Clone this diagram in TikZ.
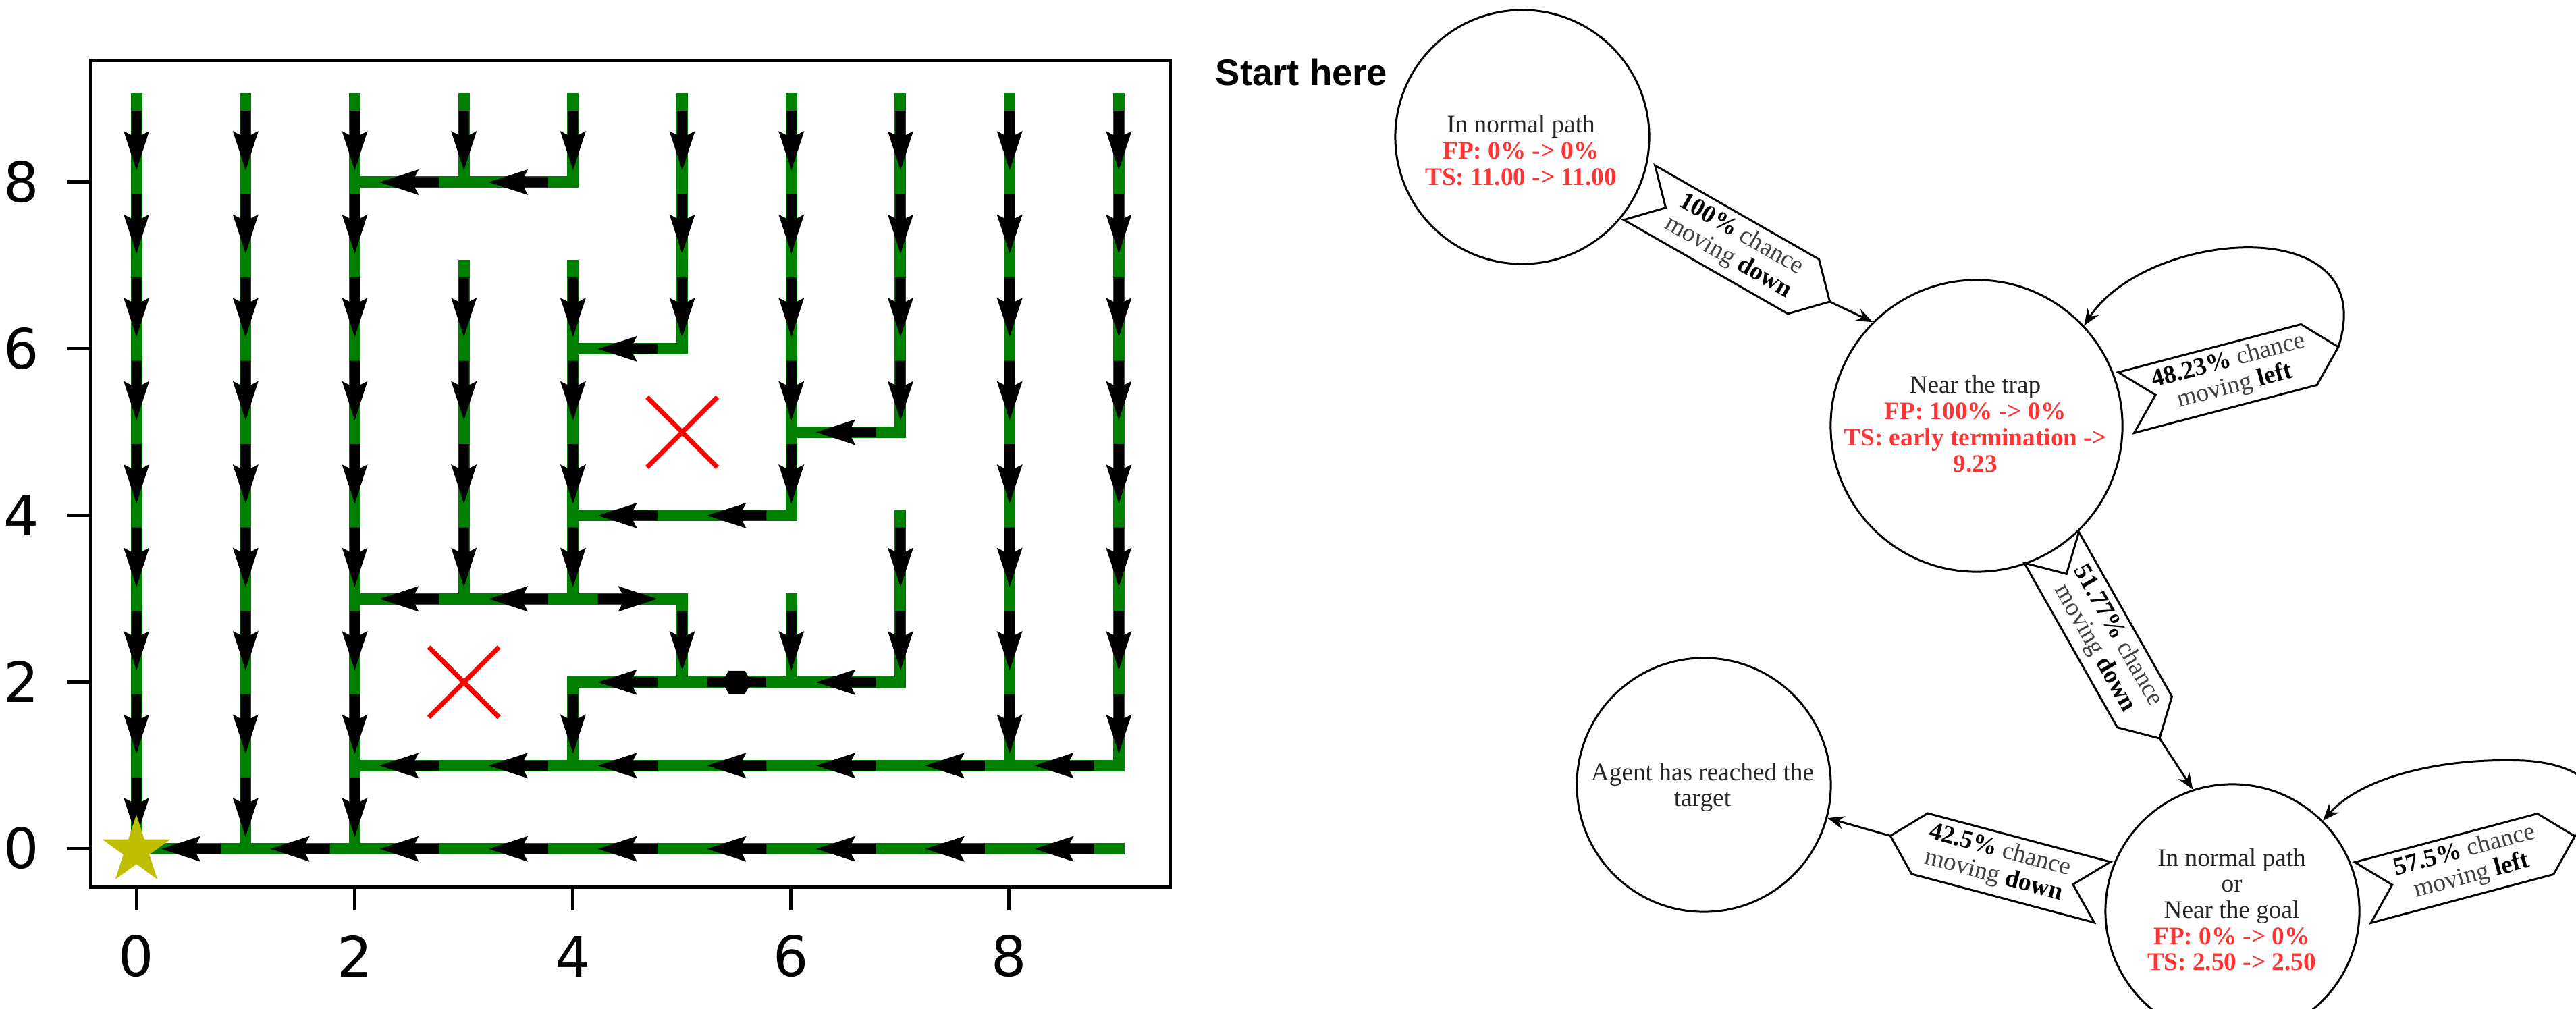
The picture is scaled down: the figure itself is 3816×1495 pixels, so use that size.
\documentclass[tikz,border=0pt]{standalone}
\usepackage{fontspec}
\setmainfont{Liberation Serif}
\newfontfamily\dvsans{DejaVu Sans}
\newfontfamily\lisans{Liberation Sans}
\usetikzlibrary{arrows.meta,shapes.geometric}
\definecolor{mzgreen}{RGB}{0,128,0}
\definecolor{starcol}{RGB}{191,191,0}
\definecolor{fpred}{RGB}{255,51,51}
\newcommand\fp[1]{\textcolor{fpred}{\bfseries #1}}
\newcommand\bw[1]{\textcolor{black}{\bfseries #1}}
\tikzset{
  mz/.style={draw=mzgreen, line width=0.17cm, line cap=rect, line join=miter},
  qarr/.pic={\fill[black] (-0.44cm,-0.075cm) -- (-0.08cm,-0.075cm) -- (-0.14cm,-0.19cm) -- (0.44cm,0cm) -- (-0.14cm,0.19cm) -- (-0.08cm,0.075cm) -- (-0.44cm,0.075cm) -- cycle;},
  qdbl/.pic={\fill[black] (-0.44cm,-0.075cm) rectangle (0.44cm,0.075cm);
             \fill[black] (-0.22cm,0cm) -- (-0.12cm,0.17cm) -- (0.12cm,0.17cm) -- (0.22cm,0cm) -- (0.12cm,-0.17cm) -- (-0.12cm,-0.17cm) -- cycle;},
  xmark/.style={draw=red, line width=0.07cm},
  tickln/.style={line width=0.05cm},
  ticklbl/.style={font=\dvsans\fontsize{23.4pt}{28pt}\selectfont, inner sep=0},
  state/.style={circle, draw, line width=0.85pt, fill=white, inner sep=0},
  stxt/.style={font=\fontsize{10.6pt}{11pt}\selectfont, inner sep=0, text=black!85},
  lblshape/.style={draw, line width=0.85pt, fill=white, line join=miter},
  edge/.style={draw, line width=0.85pt, -{Stealth[length=7pt,width=5.5pt]}},
}
% chevron edge label: name, center, angle, direction(+1/-1), line1, line2
\newcommand\chev[6]{%
  \begin{scope}[shift={(#2)}, rotate=#3]
    \draw[lblshape, xscale=#4] (-140,-46.5) -- (140,-46.5) -- (185,0) -- (140,46.5) -- (-140,46.5) -- (-95,0) -- cycle;
    \path[xscale=#4] (185,0) coordinate (#1tip) (22,0) coordinate (#1mid);
  \end{scope}
  \node[stxt, rotate=#3, text=black!75] (#1) at (#1mid) {\begin{tabular}{@{}c@{}}#5\\#6\end{tabular}};}
\begin{document}
\begin{tikzpicture}[x=0.01cm, y=-0.01cm]
\useasboundingbox (0,0) rectangle (3816,1495);
\fill[white] (0,0) rectangle (3816,1495);

% ---------------- maze plot ----------------
\begin{scope}[shift={(2.02cm,-12.57cm)}, x=1.616cm, y=1.234cm]
  \draw[mz] (0,9) -- (0,0);
  \draw[mz] (1,9) -- (1,0);
  \draw[mz] (2,9) -- (2,0);
  \draw[mz] (3,9) -- (3,8);
  \draw[mz] (4,9) -- (4,8) -- (2,8);
  \draw[mz] (5,9) -- (5,6) -- (4,6);
  \draw[mz] (6,9) -- (6,4) -- (4,4);
  \draw[mz] (7,9) -- (7,5) -- (6,5);
  \draw[mz] (8,9) -- (8,1);
  \draw[mz] (9,9) -- (9,1) -- (2,1);
  \draw[mz] (9,0) -- (0,0);
  \draw[mz] (3,7) -- (3,3);
  \draw[mz] (4,7) -- (4,3);
  \draw[mz] (2,3) -- (5,3) -- (5,2);
  \draw[mz] (6,3) -- (6,2);
  \draw[mz] (7,4) -- (7,2) -- (4,2) -- (4,1);
  % down arrows
  \foreach \x in {0,1,2} {\foreach \k in {0,...,8} {\pic[rotate=-90] at (\x,\k+0.5) {qarr};}}
  \foreach \x in {8,9} {\foreach \k in {1,...,8} {\pic[rotate=-90] at (\x,\k+0.5) {qarr};}}
  \foreach \x/\k in {3/8,3/6,3/5,3/4,3/3,4/8,4/6,4/5,4/4,4/3,4/1,5/8,5/7,5/6,5/2,6/8,6/7,6/6,6/5,6/4,6/2,7/8,7/7,7/6,7/5,7/3,7/2}
    {\pic[rotate=-90] at (\x,\k+0.5) {qarr};}
  % left arrows
  \foreach \k/\y in {2/8,3/8,4/6,6/5,4/4,5/4,2/3,3/3,4/2,6/2} {\pic[rotate=180] at (\k+0.5,\y) {qarr};}
  \foreach \k in {2,...,8} {\pic[rotate=180] at (\k+0.5,1) {qarr};}
  \foreach \k in {0,...,8} {\pic[rotate=180] at (\k+0.5,0) {qarr};}
  % right arrow and double arrow
  \pic at (4.5,3) {qarr};
  \pic at (5.5,2) {qdbl};
  % traps
  \draw[xmark] (3,2) +(-0.52cm,-0.52cm) -- +(0.52cm,0.52cm) +(-0.52cm,0.52cm) -- +(0.52cm,-0.52cm);
  \draw[xmark] (5,5) +(-0.52cm,-0.52cm) -- +(0.52cm,0.52cm) +(-0.52cm,0.52cm) -- +(0.52cm,-0.52cm);
\end{scope}
\node[star, star points=5, star point ratio=2.618, fill=starcol, inner sep=0, minimum size=1.06cm] (goal) at (202,1260) {};
\draw[line width=0.05cm] (134,90) rectangle (1733,1314);
\foreach \k in {0,2,4,6,8} {
  \draw[tickln] ({202+161.6*\k},1314) -- ++(0,35);
  \draw[tickln] (134,{1257-123.4*\k}) -- ++(-35,0);
  \node[ticklbl] (xt\k) at ({202+161.6*\k},1417) {\k};
  \node[ticklbl] (yt\k) at (32,{1257-123.4*\k}) {\k};
}

% ---------------- state diagram ----------------
\node[font=\lisans\bfseries\fontsize{15.5pt}{18pt}\selectfont, anchor=base, inner sep=0] (start) at (1928,127) {Start here};

\node[state, minimum size=3.76cm] (c1) at (2255,203) {};
\node[state, minimum size=4.32cm] (c2) at (2928,631) {};
\node[state, minimum size=3.76cm] (c3) at (2524,1163) {};
\node[state, minimum size=3.76cm] (c4) at (3307,1350) {};

\node[stxt, anchor=base] (t1) at (2253,197) {\begin{tabular}[t]{@{}c@{}}In normal path\\ \fp{FP: 0\% -> 0\%}\\ \fp{TS: 11.00 -> 11.00}\end{tabular}};
\node[stxt, anchor=base] (t2) at (2926,583) {\begin{tabular}[t]{@{}c@{}}Near the trap\\ \fp{FP: 100\% -> 0\%}\\ \fp{TS: early termination ->}\\ \fp{9.23}\end{tabular}};
\node[stxt, anchor=base] (t3) at (2522,1156) {\begin{tabular}[t]{@{}c@{}}Agent has reached the\\ target\end{tabular}};
\node[stxt, anchor=base] (t4) at (3306,1283) {\begin{tabular}[t]{@{}c@{}}In normal path\\ or\\ Near the goal\\ \fp{FP: 0\% -> 0\%}\\ \fp{TS: 2.50 -> 2.50}\end{tabular}};

\chev{L1}{2550,355}{-29.8}{1}{\bw{100\%} chance}{moving \bw{down}}
\chev{L2}{3285,561}{14.7}{1}{\bw{48.23\%} chance}{moving \bw{left}}
\chev{L3}{3108,933}{-60.5}{1}{\bw{51.77\%} chance}{moving \bw{down}}
\chev{L4}{2979,1286}{-14.9}{-1}{\bw{42.5\%} chance}{moving \bw{down}}
\chev{L5}{3635.5,1286.5}{14.9}{1}{\bw{57.5\%} chance}{moving \bw{left}}

\draw[edge] (L1tip) -- (c2.135);
\draw[edge] (L2tip) .. controls (3530,310) and (3180,340) .. (c2.43);
\draw[edge] (L3tip) -- (c4.108);
\draw[edge] (L4tip) -- (c3.-15);
\draw[edge] (L5tip) .. controls (3870,1205) and (3860,1135) .. (3740,1127) .. controls (3620,1122) and (3500,1150) .. (c4.45);
\end{tikzpicture}
\end{document}
